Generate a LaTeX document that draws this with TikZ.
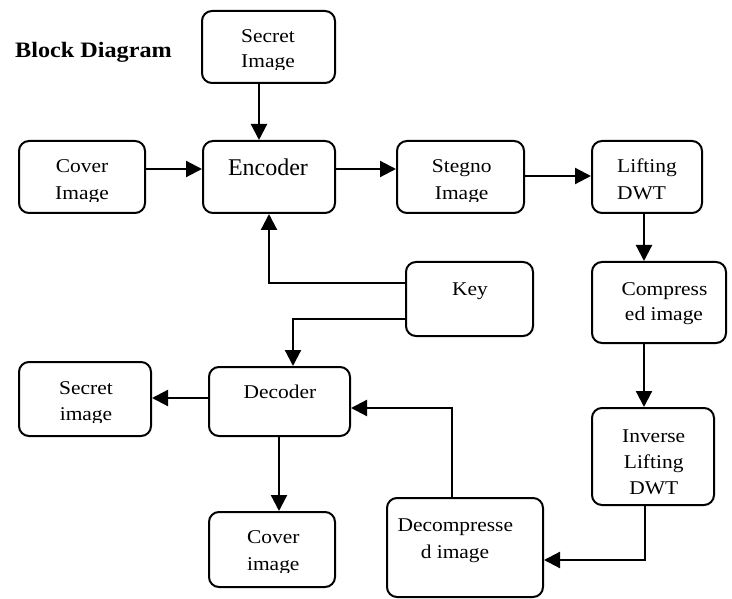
\documentclass[tikz,border=0pt]{standalone}
\usepackage{fontspec}
\setmainfont{Liberation Serif}[FakeStretch=1.1]
\newfontfamily\encfont{Liberation Serif}
\usetikzlibrary{arrows.meta}
\begin{document}
\begin{tikzpicture}[x=1pt,y=-1pt,
  box/.style={draw, line width=2pt, rounded corners=10pt, inner sep=0pt},
  txt/.style={anchor=base, inner sep=0pt, font=\fontsize{19.5}{24}\selectfont},
  ltxt/.style={txt, anchor=base west},
  hd/.style={anchor=base west, inner sep=0pt, font=\fontsize{22}{26}\selectfont\bfseries},
  enc/.style={anchor=base, inner sep=0pt, font=\encfont\fontsize{24}{28}\selectfont},
  arr/.style={line width=2.2pt, -{Triangle[length=16pt,width=16pt]}}]
\useasboundingbox (0,0) rectangle (732,599);

% boxes
\node[box, minimum width=133pt, minimum height=72pt] (secretT) at (268.5,47) {};
\node[box, minimum width=132pt, minimum height=72pt] (encoder) at (269,177) {};
\node[box, minimum width=126pt, minimum height=72pt] (coverT) at (82,177) {};
\node[box, minimum width=127pt, minimum height=72pt] (stegno) at (460.5,177) {};
\node[box, minimum width=110pt, minimum height=72pt] (lifting) at (647,177) {};
\node[box, minimum width=127pt, minimum height=74pt] (key) at (469.5,299) {};
\node[box, minimum width=134pt, minimum height=81pt] (compressed) at (659,302.5) {};
\node[box, minimum width=122pt, minimum height=97pt] (inverse) at (653,456.5) {};
\node[box, minimum width=156pt, minimum height=99pt] (decompressed) at (465,547.5) {};
\node[box, minimum width=141pt, minimum height=69pt] (decoder) at (279.5,401.5) {};
\node[box, minimum width=132pt, minimum height=74pt] (secretB) at (85,399) {};
\node[box, minimum width=126pt, minimum height=75pt] (coverB) at (272,549.5) {};

% texts
\node[hd] (title) at (15,57.5) {Block Diagram};
\node[txt] (tsec1) at (268,43) {Secret};
\begin{scope}\clip (202,11) rectangle (335,70);
\node[txt] (tsec2) at (268,68) {Image};
\end{scope}
\node[txt] (tcov1) at (82,173) {Cover};
\begin{scope}\clip (19,141) rectangle (145,202);
\node[txt] (tcov2) at (82,200) {Image};
\end{scope}
\node[enc] (tenc) at (268,176) {Encoder};
\node[txt] (tste1) at (461.7,173) {Stegno};
\begin{scope}\clip (397,141) rectangle (524,202);
\node[txt] (tste2) at (461.7,200) {Image};
\end{scope}
\node[ltxt] (tlif1) at (617,173) {Lifting};
\node[ltxt] (tlif2) at (617,200) {DWT};
\node[txt] (tkey) at (470,295) {Key};
\node[txt] (tcmp1) at (664.5,295) {Compress};
\node[txt] (tcmp2) at (664,320) {ed image};
\node[txt] (tinv1) at (653.7,442) {Inverse};
\node[txt] (tinv2) at (653.7,468) {Lifting};
\begin{scope}\clip (592,408) rectangle (714,493);
\node[txt] (tinv3) at (653.7,494) {DWT};
\end{scope}
\node[txt] (tdec1) at (455.3,531.7) {Decompresse};
\node[txt] (tdec2) at (455,558) {d image};
\node[txt] (tdcd) at (280,398.3) {Decoder};
\node[txt] (tsb1) at (86,394) {Secret};
\begin{scope}\clip (19,362) rectangle (151,422.7);
\node[txt] (tsb2) at (86,420.7) {image};
\end{scope}
\node[txt] (tcb1) at (273.3,543.3) {Cover};
\begin{scope}\clip (209,512) rectangle (335,572.7);
\node[txt] (tcb2) at (273.3,570.7) {image};
\end{scope}

% helper coordinates
\coordinate (xa) at (259,0);
\coordinate (ya) at (0,169);
\coordinate (yb) at (0,176);
\coordinate (xc) at (644,0);
\coordinate (yk1) at (0,283);
\coordinate (xk1) at (269,0);
\coordinate (yk2) at (0,319);
\coordinate (xk2) at (293,0);
\coordinate (xi) at (645,0);
\coordinate (yi) at (0,560);
\coordinate (xd) at (452,0);
\coordinate (yd) at (0,408);
\coordinate (ys) at (0,398);
\coordinate (xcv) at (279,0);

% connectors
\draw[arr] (secretT.south -| xa) -- (encoder.north -| xa);
\draw[arr] (coverT.east |- ya) -- (encoder.west |- ya);
\draw[arr] (encoder.east |- ya) -- (stegno.west |- ya);
\draw[arr] (stegno.east |- yb) -- (lifting.west |- yb);
\draw[arr] (lifting.south -| xc) -- (compressed.north -| xc);
\draw[arr] (compressed.south -| xc) -- (inverse.north -| xc);
\draw[arr] (inverse.south -| xi) -- (xi |- yi) -- (decompressed.east |- yi);
\draw[arr] (decompressed.north -| xd) -- (xd |- yd) -- (decoder.east |- yd);
\draw[arr] (key.west |- yk1) -- (xk1 |- yk1) -- (encoder.south -| xk1);
\draw[arr] (key.west |- yk2) -- (xk2 |- yk2) -- (decoder.north -| xk2);
\draw[arr] (decoder.west |- ys) -- (secretB.east |- ys);
\draw[arr] (decoder.south -| xcv) -- (coverB.north -| xcv);
\end{tikzpicture}
\end{document}
